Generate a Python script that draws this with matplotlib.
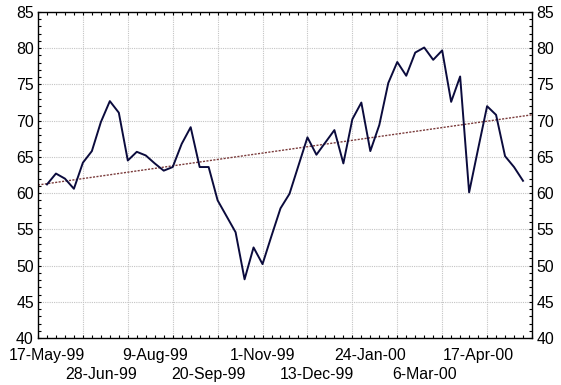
import numpy as np
import matplotlib
matplotlib.use("Agg")
import matplotlib.pyplot as plt
from matplotlib.ticker import MultipleLocator, NullFormatter

plt.rcParams['font.family'] = ['Liberation Sans', 'DejaVu Sans']

# weekly index values, week 1 = 17-May-99
weeks = np.arange(1, 55)
values = [61.2, 62.7, 62.0, 60.6, 64.2, 65.8, 69.8, 72.7, 71.1, 64.5,
          65.7, 65.2, 64.1, 63.1, 63.6, 66.8, 69.1, 63.6, 63.6, 59.0,
          56.8, 54.6, 48.1, 52.5, 50.2, 54.1, 57.9, 59.9, 63.8, 67.7,
          65.3, 67.0, 68.7, 64.1, 70.2, 72.5, 65.8, 69.4, 75.2, 78.1,
          76.2, 79.4, 80.1, 78.4, 79.7, 72.6, 76.1, 60.1, 66.1, 72.0,
          70.8, 65.1, 63.6, 61.7]

label_weeks = [1, 7, 13, 19, 25, 31, 37, 43, 49]
date_labels = ['17-May-99', '28-Jun-99', '9-Aug-99', '20-Sep-99', '1-Nov-99',
               '13-Dec-99', '24-Jan-00', '6-Mar-00', '17-Apr-00']

FS = 11.4

fig = plt.figure(figsize=(5.61, 3.85), dpi=100)
ax = fig.add_axes([0.0677, 0.1221, 0.8806, 0.8467])

ax.plot(weeks, values, color='#0b0b3d', lw=1.4, zorder=3)

# linear trend over the whole span
slope, icpt = np.polyfit(weeks, values, 1)
xt = np.array([0, 55])
ax.plot(xt, slope * xt + icpt, color='#7a3b3b', lw=1.0,
        linestyle=(0, (1.5, 1)), zorder=2)

ax.set_xlim(0, 55)
ax.set_ylim(40, 85)
ax.xaxis.set_major_locator(MultipleLocator(5))
ax.xaxis.set_minor_locator(MultipleLocator(1))
ax.xaxis.set_major_formatter(NullFormatter())
ax.yaxis.set_major_locator(MultipleLocator(5))
ax.yaxis.set_minor_locator(MultipleLocator(1))
ax.grid(True, which='major', color='#c4c4c4', linestyle=(0, (1, 1)), lw=0.8)
ax.tick_params(which='both', direction='in', top=True, right=True,
               labelright=True, labelsize=FS, width=0.8, length=2.5)
ax.tick_params(axis='y', which='major', pad=3)
for s in ax.spines.values():
    s.set_linewidth(1.0)

# date labels in two staggered rows
rows = [(label_weeks[0::2], date_labels[0::2], 7),
        (label_weeks[1::2], date_labels[1::2], 21)]
for pos, labs, pad in rows:
    sec = ax.secondary_xaxis('bottom')
    sec.set_xticks(pos)
    sec.set_xticklabels(labs)
    sec.tick_params(length=0, labelsize=FS, pad=pad)
    sec.spines['bottom'].set_visible(False)

fig.savefig('out.png', dpi=100)
